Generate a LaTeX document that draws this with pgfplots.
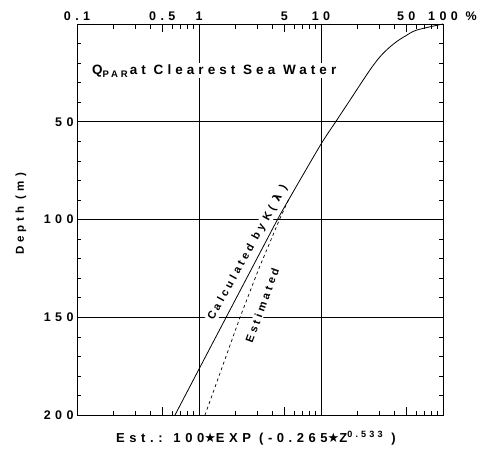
\documentclass[border=0pt]{standalone}
\usepackage{fontspec}
\setmainfont{Liberation Sans Bold}
\newfontfamily\lab[LetterSpace=35]{Liberation Sans Bold}
\newfontfamily\ttl[LetterSpace=30]{Liberation Sans Bold}
\newfontfamily\sym{DejaVu Sans Bold}
\usepackage{pgfplots}
\pgfplotsset{compat=1.18}
\begin{document}
\begin{tikzpicture}
\begin{axis}[
  at={(0,0)}, anchor=south west,
  width=366pt, height=391pt, scale only axis,
  set layers,
  xmode=log, xmin=0.1, xmax=100,
  ymin=0, ymax=200, y dir=reverse,
  xtick={0.1,0.5,1,5,10,50,100},
  xticklabels={0.1,0.5,1,5,10,50,100\rlap{ \%}},
  xticklabel pos=upper,
  minor xtick={0.2,0.3,0.4,0.6,0.7,0.8,0.9,2,3,4,6,7,8,9,20,30,40,60,70,80,90},
  extra x ticks={1,10}, extra x tick labels={},
  extra x tick style={xmajorgrids=true, major tick length=0pt},
  ytick={50,100,150,200},
  minor ytick={10,20,30,40,60,70,80,90,110,120,130,140,160,170,180,190},
  ymajorgrids,
  tick align=inside,
  major tick length=8pt, minor tick length=4.5pt,
  grid style={black, line width=0.6pt, solid},
  axis line style={line width=0.9pt},
  tick style={black, line width=0.6pt},
  ticklabel style={font=\lab\fontsize{12.5}{12.5}\selectfont},
  /pgf/number format/assume math mode=true,
  clip=false,
]
\begin{pgfonlayer}{pre main}
\node[fill=white, inner sep=1pt, anchor=west, font=\ttl\fontsize{13.5}{13.5}\selectfont]
  at (axis cs:0.13,24) {Q\raisebox{-0.45ex}{\fontsize{9.5}{10}\selectfont PAR}\,at Clearest Sea Water};
\node[rotate=61, fill=white, inner sep=1pt, font=\ttl\fontsize{11}{11}\selectfont]
  at (axis cs:2.5,117) {Calculated by K( {\sym λ} )};
\node[rotate=70, fill=white, inner sep=1pt, font=\ttl\fontsize{11}{11}\selectfont]
  at (axis cs:3.3,144) {Estimated};
\end{pgfonlayer}
\addplot[black, line width=0.8pt, smooth, tension=0.5] coordinates {
 (100,0) (60.9,3.1) (49.6,6) (41.7,9.0) (35.6,12.5) (30.5,16.7) (26.2,22) (22.2,28.6) (17.3,38.9) (13.2,50)
 (10.1,61) (6.73,79.8) (5.42,90) (4.40,100) (2.71,125) (1.67,150) (1.03,175) (0.636,200)
};
\addplot[black, line width=0.7pt, dash pattern=on 3pt off 3pt] coordinates {
 (5.41,90) (4.57,100) (3.10,125) (2.17,150) (1.56,175) (1.12,200)
};
\end{axis}
\node[rotate=90, font=\lab\fontsize{11.5}{12}\selectfont] at (-56pt,201pt) {Depth (m)};
\node[font=\lab\fontsize{13}{13}\selectfont] at (179pt,-23pt)
  {Est.: 100{\sym ★}EXP (-0.265{\sym ★}Z\textsuperscript{0.533} )};
\pgfresetboundingbox
\useasboundingbox (-77pt,-35pt) rectangle (412pt,415pt);
\end{tikzpicture}
\end{document}
